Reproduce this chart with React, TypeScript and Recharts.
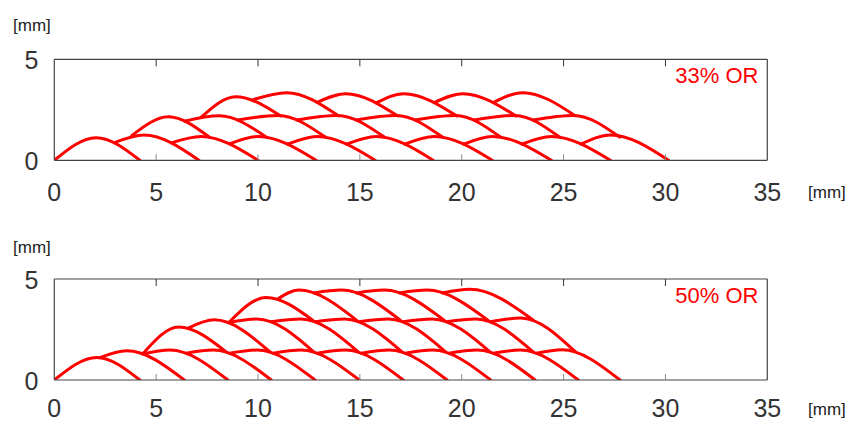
import { LineChart, Line, XAxis, YAxis } from "recharts";

type Pt = [number, number];
type Arc = [Pt, Pt, Pt];

const xTicks = [0, 5, 10, 15, 20, 25, 30, 35];
const xInnerTicks = [5, 10, 15, 20, 25, 30];
const yTicks = [0, 5];

// 33% overlap ratio: visible outline of each bead (start, top, end), in mm
const or33Layer1: Arc[] = [
  [[0, 0], [2.05, 1.12], [4.2, 0]],
  [[2.95, 0.87], [4.4, 1.25], [7.1, 0]],
  [[5.75, 0.86], [7.2, 1.18], [10.0, 0]],
  [[8.6, 0.81], [10.0, 1.18], [12.85, 0]],
  [[11.45, 0.8], [12.9, 1.18], [15.75, 0]],
  [[14.35, 0.8], [15.8, 1.18], [18.6, 0]],
  [[17.2, 0.8], [18.65, 1.18], [21.5, 0]],
  [[20.1, 0.8], [21.5, 1.18], [24.4, 0]],
  [[22.95, 0.8], [24.4, 1.18], [27.3, 0]],
  [[25.85, 0.8], [27.3, 1.25], [30.15, 0]],
];
const or33Layer2: Arc[] = [
  [[3.8, 1.22], [5.6, 2.15], [7.6, 1.15]],
  [[6.4, 1.94], [8.1, 2.2], [10.4, 1.15]],
  [[9.0, 2.0], [11.0, 2.22], [13.3, 1.15]],
  [[11.9, 2.0], [13.9, 2.22], [16.2, 1.15]],
  [[14.8, 2.0], [16.8, 2.22], [19.05, 1.15]],
  [[17.7, 2.0], [19.7, 2.22], [21.9, 1.15]],
  [[20.6, 2.0], [22.6, 2.22], [24.8, 1.15]],
  [[23.5, 2.0], [25.5, 2.22], [27.75, 1.15]],
];
const or33Layer3: Arc[] = [
  [[7.2, 2.12], [8.9, 3.15], [11.1, 2.2]],
  [[9.7, 2.98], [11.4, 3.35], [13.95, 2.2]],
  [[12.9, 2.87], [14.3, 3.3], [16.85, 2.2]],
  [[15.8, 2.84], [17.15, 3.3], [19.75, 2.2]],
  [[18.65, 2.86], [20.05, 3.3], [22.65, 2.2]],
  [[21.55, 2.86], [23.0, 3.35], [25.55, 2.22]],
];

// 50% overlap ratio
const or50Layer1: Arc[] = [
  [[0, 0], [2.08, 1.12], [4.2, 0]],
  [[2.24, 1.11], [3.55, 1.45], [6.38, 0]],
  [[4.35, 1.29], [5.67, 1.48], [8.52, 0]],
  [[6.47, 1.32], [7.8, 1.48], [10.65, 0]],
  [[8.6, 1.32], [9.95, 1.48], [12.8, 0]],
  [[10.75, 1.32], [12.1, 1.48], [14.97, 0]],
  [[12.9, 1.32], [14.28, 1.48], [17.13, 0]],
  [[15.08, 1.32], [16.43, 1.48], [19.28, 0]],
  [[17.23, 1.32], [18.57, 1.48], [21.42, 0]],
  [[19.37, 1.32], [20.75, 1.48], [23.6, 0]],
  [[21.55, 1.32], [22.87, 1.48], [25.72, 0]],
  [[23.67, 1.32], [24.92, 1.5], [27.77, 0]],
];
const or50Layer2: Arc[] = [
  [[4.35, 1.3], [6.1, 2.62], [8.45, 1.38]],
  [[6.55, 2.56], [7.85, 2.98], [10.6, 1.38]],
  [[8.55, 2.84], [9.95, 3.02], [12.75, 1.38]],
  [[10.65, 2.88], [12.1, 3.02], [14.93, 1.38]],
  [[12.8, 2.88], [14.25, 3.02], [17.08, 1.38]],
  [[14.95, 2.88], [16.4, 3.02], [19.22, 1.38]],
  [[17.1, 2.88], [18.55, 3.02], [21.4, 1.38]],
  [[19.25, 2.88], [20.7, 3.02], [23.52, 1.38]],
  [[21.4, 2.88], [22.9, 3.07], [25.57, 1.4]],
];
const or50Layer3: Arc[] = [
  [[8.6, 2.88], [10.4, 4.09], [12.7, 2.95]],
  [[10.95, 4.0], [12.0, 4.45], [14.85, 2.95]],
  [[12.75, 4.31], [14.1, 4.45], [17.0, 2.95]],
  [[14.85, 4.31], [16.2, 4.45], [19.15, 2.95]],
  [[16.95, 4.31], [18.3, 4.45], [21.3, 2.95]],
  [[19.05, 4.31], [20.4, 4.49], [23.5, 2.97]],
];

const FONT = "'Liberation Sans', Arial, sans-serif";
const AXIS = "#444";
const RED = "#ff0000";

const makeBottomTick = (labelDy: number) => (props: any) => {
  const { x, y, payload } = props;
  const v = payload.value;
  return (
    <g>
      {v > 0 && v < 35 && <line x1={x} x2={x} y1={y} y2={y - 6} stroke="#888" />}
      <text x={x} y={y + labelDy} textAnchor="middle" fontSize={25} fill="#333" fontFamily={FONT}>
        {v}
      </text>
    </g>
  );
};

const TopTick = (props: any) => {
  const { x, y } = props;
  return <line x1={x} x2={x} y1={y} y2={y + 7} stroke="#333" />;
};

const LeftTick = (props: any) => {
  const { x, y, payload } = props;
  return (
    <text x={x - 16} y={y + 10} textAnchor="end" fontSize={25} fill="#333" fontFamily={FONT}>
      {payload.value}
    </text>
  );
};

function Panel({
  layers,
  height,
  top,
  bottom,
  labelDy,
}: {
  layers: Arc[][];
  height: number;
  top: number;
  bottom: number;
  labelDy: number;
}) {
  const arcs = layers.flat();
  return (
    <LineChart width={853} height={height} margin={{ top, right: 83.7, bottom, left: 24.3 }}>
      <XAxis
        xAxisId="b"
        dataKey="x"
        type="number"
        domain={[0, 35]}
        ticks={xTicks}
        allowDataOverflow
        height={30}
        tickSize={0}
        tickMargin={0}
        tickLine={false}
        axisLine={{ stroke: AXIS, strokeWidth: 1.2 }}
        tick={makeBottomTick(labelDy)}
        interval={0}
      />
      <XAxis
        xAxisId="t"
        orientation="top"
        dataKey="x"
        type="number"
        domain={[0, 35]}
        ticks={xInnerTicks}
        allowDataOverflow
        height={2}
        tickSize={0}
        tickMargin={0}
        tickLine={false}
        axisLine={{ stroke: AXIS, strokeWidth: 1.2 }}
        tick={<TopTick />}
        interval={0}
      />
      <YAxis
        yAxisId="l"
        type="number"
        domain={[0, 5]}
        ticks={yTicks}
        allowDataOverflow
        width={30}
        tickSize={0}
        tickMargin={0}
        tickLine={false}
        axisLine={{ stroke: AXIS, strokeWidth: 1.2 }}
        tick={<LeftTick />}
        interval={0}
      />
      <YAxis
        yAxisId="r"
        orientation="right"
        type="number"
        domain={[0, 5]}
        allowDataOverflow
        width={2}
        tick={false}
        tickLine={false}
        axisLine={{ stroke: AXIS, strokeWidth: 1.2 }}
      />
      {arcs.map((arc, i) => (
        <Line
          key={i}
          data={arc.map(([x, y]) => ({ x, y }))}
          dataKey="y"
          xAxisId="b"
          yAxisId="l"
          type="monotoneX"
          stroke={RED}
          strokeWidth={3}
          strokeLinecap="round"
          dot={false}
          activeDot={false}
          isAnimationActive={false}
        />
      ))}
    </LineChart>
  );
}

export default function App() {
  return (
    <div style={{ position: "absolute", left: 0, top: 0, width: 853, height: 421, background: "#fff" }}>
      <div style={{ position: "absolute", left: 0, top: 0 }}>
        <Panel layers={[or33Layer3, or33Layer2, or33Layer1]} height={210} top={57.3} bottom={19.7} labelDy={41} />
      </div>
      <div style={{ position: "absolute", left: 0, top: 210 }}>
        <Panel layers={[or50Layer3, or50Layer2, or50Layer1]} height={211} top={67} bottom={11} labelDy={37} />
      </div>
      <svg
        width={853}
        height={421}
        style={{ position: "absolute", left: 0, top: 0, pointerEvents: "none" }}
        fontFamily={FONT}
      >
        <text x={13} y={30.5} fontSize={17} fill="#222">[mm]</text>
        <text x={808} y={197.5} fontSize={17} fill="#222">[mm]</text>
        <text x={13} y={252.5} fontSize={17} fill="#222">[mm]</text>
        <text x={808} y={415} fontSize={17} fill="#222">[mm]</text>
        <text x={758.5} y={83.3} fontSize={22} fill={RED} textAnchor="end">33% OR</text>
        <text x={758.5} y={303.3} fontSize={22} fill={RED} textAnchor="end">50% OR</text>
      </svg>
    </div>
  );
}
